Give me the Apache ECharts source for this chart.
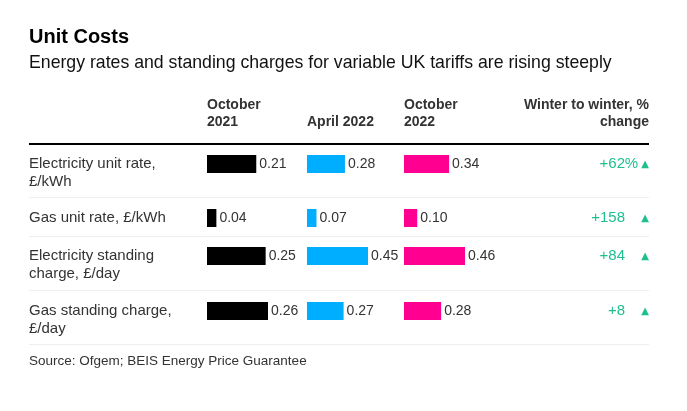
<!DOCTYPE html>
<html>
<head>
<meta charset="utf-8">
<script src="https://cdn.jsdelivr.net/npm/echarts@6/dist/echarts.min.js"></script>
<style>
html,body{margin:0;padding:0;background:#fff;}
#chart{width:687px;height:411px;}
</style>
</head>
<body>
<div id="chart"></div>
<script>
// ---- data ----
const categories = ['Electricity unit rate,\n£/kWh', 'Gas unit rate, £/kWh', 'Electricity standing\ncharge, £/day', 'Gas standing charge,\n£/day'];
const periods = ['October\n2021', 'April 2022', 'October\n2022'];
const oct2021 = [0.21, 0.04, 0.25, 0.26];
const apr2022 = [0.28, 0.07, 0.45, 0.27];
const oct2022 = [0.34, 0.10, 0.46, 0.28];
const changeLabels = ['+62%', '+158', '+84', '+8'];
const changeHeader = 'Winter to winter, %\nchange';
const titleText = 'Unit Costs';
const subtitleText = 'Energy rates and standing charges for variable UK tariffs are rising steeply';
const sourceText = 'Source: Ofgem; BEIS Energy Price Guarantee';

// ---- layout ----
const FONT = '"Liberation Sans", Arial, Helvetica, sans-serif';
const colors = ['#000000', '#00aeff', '#ff0090'];
const green = '#1dbf8e';
const textColor = '#333333';
const columns = [oct2021, apr2022, oct2022];
const colLeft = [207, 307, 404];
const colWidth = 61;
const rowCenter = [164, 218, 256, 311];
const barH = 18;
const leftX = 29, rightX = 649;

const grids = [], xAxes = [], yAxes = [], series = [];
for (let r = 0; r < categories.length; r++) {
  for (let c = 0; c < columns.length; c++) {
    const gi = grids.length;
    grids.push({left: colLeft[c], top: rowCenter[r] - barH / 2, width: colWidth, height: barH});
    xAxes.push({type: 'value', gridIndex: gi, min: 0, max: Math.max(...columns[c]), show: false});
    yAxes.push({
      type: 'category', gridIndex: gi, data: [categories[r]],
      axisLine: {show: false}, axisTick: {show: false}, splitLine: {show: false},
      axisLabel: c === 0 ? {
        show: true, align: 'left', margin: colLeft[0] - leftX,
        color: textColor, fontSize: 15, fontFamily: FONT, lineHeight: 18,
        formatter: v => v.indexOf('\n') >= 0 ? ' \n' + v : v
      } : {show: false}
    });
    series.push({
      type: 'bar', xAxisIndex: gi, yAxisIndex: gi, barWidth: barH,
      data: [columns[c][r]],
      itemStyle: {color: colors[c]},
      label: {show: true, position: 'right', distance: 3, color: textColor, fontSize: 14, fontFamily: FONT,
        formatter: p => p.value.toFixed(2)},
      silent: true, animation: false
    });
  }
}
// percent change column: right-side axis on last column grid of each row
for (let r = 0; r < categories.length; r++) {
  const gi = r * columns.length + (columns.length - 1);
  yAxes.push({
    type: 'category', gridIndex: gi, position: 'right', data: [changeLabels[r]],
    axisLine: {show: false}, axisTick: {show: false}, splitLine: {show: false},
    axisLabel: {
      show: true, align: 'right', margin: rightX - (colLeft[2] + colWidth),
      formatter: v => {
        const hasPct = v.endsWith('%');
        const num = hasPct ? v.slice(0, -1) : v;
        return '{n|' + num + '}{p|' + (hasPct ? '%' : ' ') + '}{t|▲}';
      },
      rich: {
        n: {color: green, fontSize: 15, fontFamily: FONT},
        p: {color: green, fontSize: 15, fontFamily: FONT, width: 13, align: 'left'},
        t: {color: green, fontSize: 10, fontFamily: 'DejaVu Sans', width: 11, align: 'right'}
      }
    }
  });
}

const graphic = [
  {type: 'text', x: leftX, y: 37.5, style: {text: titleText, fill: '#000', font: 'bold 20px ' + FONT, textAlign: 'left', textVerticalAlign: 'middle'}},
  {type: 'text', x: leftX, y: 63.5, style: {text: subtitleText, fill: '#111', font: '17.7px ' + FONT, textAlign: 'left', textVerticalAlign: 'middle'}},
  {type: 'text', x: leftX, y: 361, style: {text: sourceText, fill: textColor, font: '13.5px ' + FONT, textAlign: 'left', textVerticalAlign: 'middle'}},
  {type: 'text', x: rightX, y: 131, style: {text: changeHeader, fill: '#333', font: 'bold 14px ' + FONT, lineHeight: 17, textAlign: 'right', textVerticalAlign: 'bottom'}},
  {type: 'line', shape: {x1: leftX, y1: 144, x2: rightX, y2: 144}, style: {stroke: '#000', lineWidth: 2}},
  {type: 'line', shape: {x1: leftX, y1: 197.5, x2: rightX, y2: 197.5}, style: {stroke: '#eeeeee', lineWidth: 1}},
  {type: 'line', shape: {x1: leftX, y1: 236.5, x2: rightX, y2: 236.5}, style: {stroke: '#eeeeee', lineWidth: 1}},
  {type: 'line', shape: {x1: leftX, y1: 290.5, x2: rightX, y2: 290.5}, style: {stroke: '#eeeeee', lineWidth: 1}},
  {type: 'line', shape: {x1: leftX, y1: 344.5, x2: rightX, y2: 344.5}, style: {stroke: '#eeeeee', lineWidth: 1}}
];
periods.forEach((p, c) => {
  graphic.push({type: 'text', x: colLeft[c], y: 131, style: {text: p, fill: '#333', font: 'bold 14px ' + FONT, lineHeight: 17, textAlign: 'left', textVerticalAlign: 'bottom'}});
});

const chart = echarts.init(document.getElementById('chart'), null, {renderer: 'canvas'});
chart.setOption({
  animation: false,
  backgroundColor: '#ffffff',
  grid: grids, xAxis: xAxes, yAxis: yAxes, series: series,
  graphic: graphic
});
</script>
</body>
</html>
